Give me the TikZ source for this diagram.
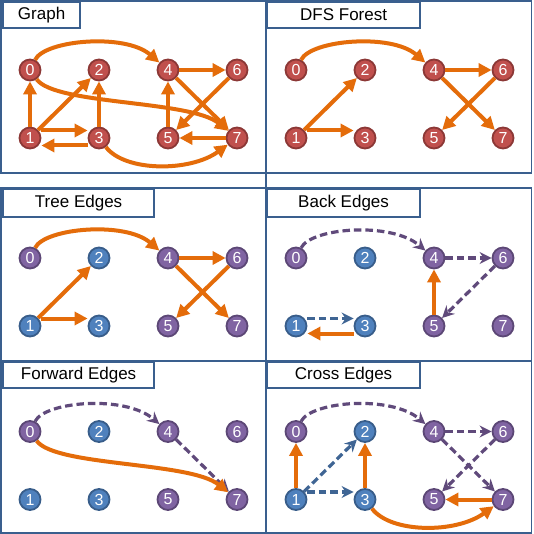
\documentclass[tikz,border=0pt]{standalone}
\usepackage{fontspec}
\setmainfont{Liberation Sans}
\usetikzlibrary{arrows.meta}
\definecolor{redfill}{HTML}{C0504D}
\definecolor{redline}{HTML}{8C3836}
\definecolor{bluefill}{HTML}{4F81BD}
\definecolor{blueline}{HTML}{385D8A}
\definecolor{purfill}{HTML}{8064A2}
\definecolor{purline}{HTML}{5C4776}
\definecolor{orng}{HTML}{E46C0A}
\definecolor{dpur}{HTML}{604A7B}
\definecolor{dblue}{HTML}{3F6594}
\definecolor{framec}{HTML}{3A5F8E}
\tikzset{
  vtx/.style={circle, minimum size=21pt, inner sep=0pt, line width=1.8pt, text=white, font=\fontsize{16}{16}\selectfont},
  rv/.style={vtx, fill=redfill, draw=redline},
  bv/.style={vtx, fill=bluefill, draw=blueline},
  pv/.style={vtx, fill=purfill, draw=purline},
  oe/.style={draw=orng, line width=4pt, -{Triangle[length=13pt,width=13pt]}},
  pe/.style={draw=dpur, line width=3.2pt, dash pattern=on 7.5pt off 4pt, -{Stealth[length=12pt,width=12pt,inset=4pt]}},
  be/.style={draw=dblue, line width=3.2pt, dash pattern=on 7.5pt off 4pt, -{Stealth[length=12pt,width=12pt,inset=4pt]}},
  panel/.style={draw=framec, line width=1.4pt},
  titlebox/.style={draw=framec, line width=2.2pt, fill=white, anchor=north west, inner sep=0pt, minimum height=26pt, font=\fontsize{17}{20}\selectfont}
}
\newcommand{\panelnodes}[3]{%
  \node[#2] (#1-0) at (30,70) {0};
  \node[#3] (#1-2) at (99,70) {2};
  \node[#2] (#1-4) at (168,70) {4};
  \node[#2] (#1-6) at (237,70) {6};
  \node[#3] (#1-1) at (30,138) {1};
  \node[#3] (#1-3) at (99,138) {3};
  \node[#2] (#1-5) at (168,138) {5};
  \node[#2] (#1-7) at (237,138) {7};
}
\begin{document}
\begin{tikzpicture}[x=1pt,y=-1pt]
\useasboundingbox (0,0) rectangle (533,534);
\fill[white] (0,0) rectangle (533,534);
% panels
\draw[panel] (1,1) rectangle (266,173);
\draw[panel] (266,1) rectangle (531.5,173);
\draw[panel] (1,188) rectangle (266,361);
\draw[panel] (266,188) rectangle (531.5,361);
\draw[panel] (1,361) rectangle (266,533);
\draw[panel] (266,361) rectangle (531.5,533);
\draw[panel] (266,0) -- (266,534);
% titles
\node[titlebox, minimum width=77pt] (tA) at (2,1) {Graph};
\node[titlebox, minimum width=153pt] (tB) at (266,1) {DFS Forest};
\node[titlebox, minimum width=151pt, minimum height=28pt] (tC) at (2,188) {Tree Edges};
\node[titlebox, minimum width=153pt, minimum height=28pt] (tD) at (266,188) {Back Edges};
\node[titlebox, minimum width=151pt] (tE) at (2,361) {Forward Edges};
\node[titlebox, minimum width=153pt] (tF) at (266,361) {Cross Edges};
% Graph
\begin{scope}
\panelnodes{a}{rv}{rv}
\draw[oe] (a-0) .. controls (45,40) and (125,33) .. (a-4);
\draw[oe] (a-0) .. controls (55,105) and (190,100) .. (a-7);
\draw[oe] (a-1) -- (a-0);
\draw[oe] (a-1) -- (a-2);
\draw[oe] ([yshift=7.5pt]a-1.east) -- ([yshift=7.5pt]a-3.west);
\draw[oe] ([yshift=-7.5pt]a-3.west) -- ([yshift=-7.5pt]a-1.east);
\draw[oe] (a-3) -- (a-2);
\draw[oe] (a-3) .. controls (125,172) and (190,172) .. (a-7);
\draw[oe] (a-4) -- (a-6);
\draw[oe] (a-4) -- (a-7);
\draw[oe] (a-5) -- (a-4);
\draw[oe] (a-6) -- (a-5);
\draw[oe] (a-7) -- (a-5);
\end{scope}
% DFS Forest
\begin{scope}[shift={(266,0)}]
\panelnodes{b}{rv}{rv}
\draw[oe] (b-0) .. controls (45,40) and (125,33) .. (b-4);
\draw[oe] (b-1) -- (b-2);
\draw[oe] ([yshift=7.5pt]b-1.east) -- ([yshift=7.5pt]b-3.west);
\draw[oe] (b-4) -- (b-6);
\draw[oe] (b-4) -- (b-7);
\draw[oe] (b-6) -- (b-5);
\end{scope}
% Tree Edges
\begin{scope}[shift={(0,188)}]
\panelnodes{c}{pv}{bv}
\draw[oe] (c-0) .. controls (45,40) and (125,33) .. (c-4);
\draw[oe] (c-1) -- (c-2);
\draw[oe] ([yshift=7.5pt]c-1.east) -- ([yshift=7.5pt]c-3.west);
\draw[oe] (c-4) -- (c-6);
\draw[oe] (c-4) -- (c-7);
\draw[oe] (c-6) -- (c-5);
\end{scope}
% Back Edges
\begin{scope}[shift={(266,188)}]
\panelnodes{d}{pv}{bv}
\draw[pe] (d-0) .. controls (45,40) and (125,33) .. (d-4);
\draw[pe] (d-4) -- (d-6);
\draw[pe] (d-6) -- (d-5);
\draw[oe] (d-5) -- (d-4);
\draw[be] ([yshift=7.5pt]d-1.east) -- ([yshift=7.5pt]d-3.west);
\draw[oe] ([yshift=-7.5pt]d-3.west) -- ([yshift=-7.5pt]d-1.east);
\end{scope}
% Forward Edges
\begin{scope}[shift={(0,361.5)}]
\panelnodes{e}{pv}{bv}
\draw[pe] (e-0) .. controls (45,40) and (125,33) .. (e-4);
\draw[pe] (e-4) -- (e-7);
\draw[oe] (e-0) .. controls (55,105) and (190,100) .. (e-7);
\end{scope}
% Cross Edges
\begin{scope}[shift={(266,361.5)}]
\panelnodes{f}{pv}{bv}
\draw[pe] (f-0) .. controls (45,40) and (125,33) .. (f-4);
\draw[pe] (f-4) -- (f-6);
\draw[pe] (f-4) -- (f-7);
\draw[pe] (f-6) -- (f-5);
\draw[be] (f-1) -- (f-2);
\draw[be] ([yshift=7.5pt]f-1.east) -- ([yshift=7.5pt]f-3.west);
\draw[oe] (f-1) -- (f-0);
\draw[oe] (f-3) -- (f-2);
\draw[oe] (f-3) .. controls (125,172) and (190,172) .. (f-7);
\draw[oe] (f-7) -- (f-5);
\end{scope}
\end{tikzpicture}
\end{document}
